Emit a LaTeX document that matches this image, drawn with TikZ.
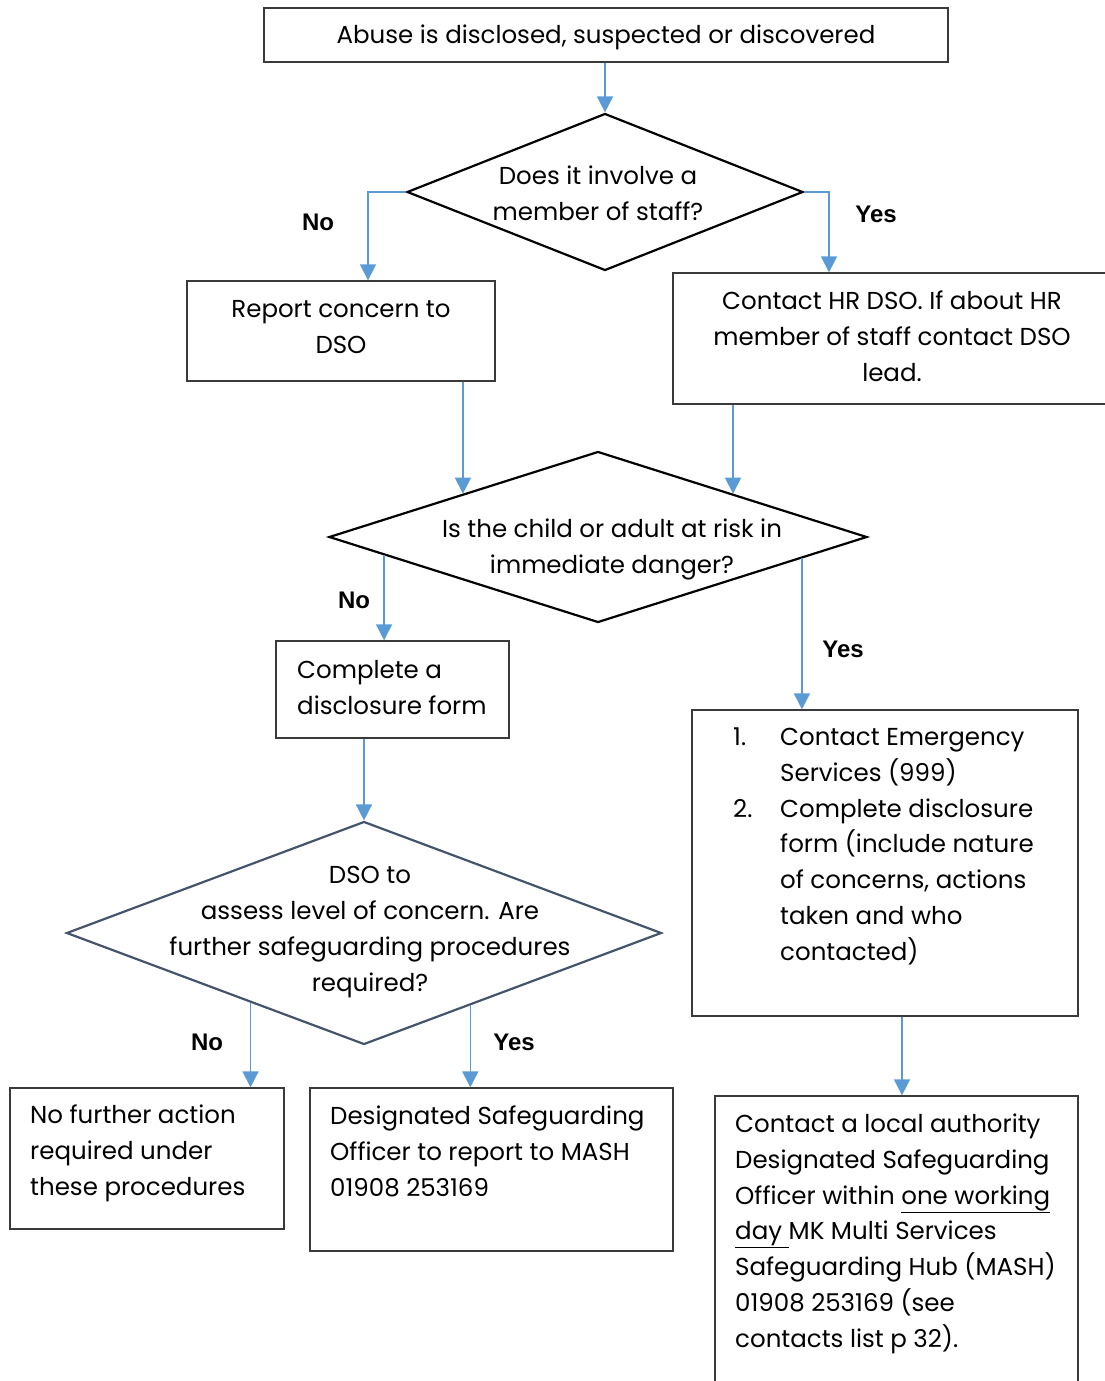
\documentclass[tikz,border=0pt]{standalone}
\usepackage{fontspec}
\setmainfont{Poppins}
\newfontfamily\lblfont{Liberation Sans}
\usetikzlibrary{shapes.geometric,calc,arrows.meta}
\definecolor{arrowblue}{HTML}{5B9BD5}
\definecolor{boxgray}{HTML}{3A3A3A}
\definecolor{slate}{HTML}{44546A}
\begin{document}
\begin{tikzpicture}[x=1pt,y=-1pt,
  box/.style={draw=boxgray, line width=1.3pt, inner sep=0, rectangle},
  dia/.style={draw=black, line width=2.2pt, diamond, inner sep=0},
  txt/.style={inner sep=0, font=\fontsize{24.5}{35.7}\selectfont},
  ctxt/.style={txt, align=center, anchor=base},
  ltxt/.style={txt, align=left, anchor=base west},
  lbl/.style={inner sep=0, font=\lblfont\bfseries\fontsize{24}{27}\selectfont},
  arr/.style={draw=arrowblue, line width=1.5pt, -{Triangle[length=16pt,width=16pt]}}]
\useasboundingbox (0,0) rectangle (1104,1381);

% boxes
\node[box, minimum width=684, minimum height=54] (A) at (606,35) {};
\node[box, minimum width=308, minimum height=100] (B) at (341,331) {};
\node[box, minimum width=439, minimum height=131] (C) at (892.5,338.5) {};
\node[box, minimum width=233, minimum height=97] (E) at (392.5,689.5) {};
\node[box, minimum width=274, minimum height=141] (F) at (147,1158.5) {};
\node[box, minimum width=363, minimum height=163] (G) at (491.5,1169.5) {};
\node[box, minimum width=386, minimum height=306] (H) at (885,863) {};
\node[box, minimum width=363, minimum height=304] (I) at (896.5,1248) {};

% diamonds
\node[dia, minimum width=396, minimum height=157] (d1) at (605,192) {};
\node[dia, minimum width=538, minimum height=171] (d2) at (598,537) {};
\node[dia, draw=slate, minimum width=595, minimum height=223] (d3) at (364,933) {};

% texts (anchor = baseline of the last line)
\node[ctxt] (tA) at (606,44) {Abuse is disclosed, suspected or discovered};
\node[ctxt] (td1) at (598,220) {Does it involve a\\member of staff?};
\node[ctxt] (tB) at (341,353) {Report concern to\\DSO};
\node[ctxt] (tC) at (892,381) {Contact HR DSO. If about HR\\member of staff contact DSO\\lead.};
\node[ctxt] (td2) at (612,573) {Is the child or adult at risk in\\immediate danger?};
\node[ltxt] (tE) at (297,714) {Complete a\\disclosure form};
\node[ctxt] (td3) at (370,991) {DSO to\\assess level of concern. Are\\further safeguarding procedures\\required?};
\node[ltxt] (tF) at (30,1195) {No further action\\required under\\these procedures};
\node[ltxt] (tG) at (330,1196) {Designated Safeguarding\\Officer to report to MASH\\01908 253169};
\node[ltxt] (tH) at (733,960) {\makebox[47pt][l]{1.}Contact Emergency\\\hspace*{47pt}Services (999)\\\makebox[47pt][l]{2.}Complete disclosure\\\hspace*{47pt}form (include nature\\\hspace*{47pt}of concerns, actions\\\hspace*{47pt}taken and who\\\hspace*{47pt}contacted)};
\node[ltxt] (tI) at (735,1347) {Contact a local authority\\Designated Safeguarding\\Officer within \underline{one working}\\\underline{day\ }MK Multi Services\\Safeguarding Hub (MASH)\\01908 253169 (see\\contacts list p 32).};

% labels
\node[lbl] (l1) at (318,222) {No};
\node[lbl] (l2) at (876,214) {Yes};
\node[lbl] (l3) at (354,600) {No};
\node[lbl] (l4) at (843,649) {Yes};
\node[lbl] (l5) at (207,1042) {No};
\node[lbl] (l6) at (514,1042) {Yes};

% connector points on diamond borders
\coordinate (n2) at ($(d2.west)!0.208!(d2.south)$);
\coordinate (y2) at ($(d2.east)!0.245!(d2.south)$);
\coordinate (n3) at ($(d3.west)!0.62!(d3.south)$);
\coordinate (y3) at ($(d3.east)!0.644!(d3.south)$);

% connectors
\draw[arr] (A.south -| d1.north) -- (d1.north);
\draw[arr] (d1.west) -| ([xshift=27pt]B.north);
\draw[arr] (d1.east) -| ([xshift=-63.5pt]C.north);
\draw[arr] (B.south -| d2.north west) -- (d2.north west);
\draw[arr] (C.south -| d2.north east) -- (d2.north east);
\draw[arr] (n2) -- (n2 |- E.north);
\draw[arr] (y2) -- (y2 |- H.north);
\draw[arr] (E.south -| d3.north) -- (d3.north);
\draw[arr] (n3) -- (n3 |- F.north);
\draw[arr] (y3) -- (y3 |- G.north);
\draw[arr] ([xshift=17pt]H.south) -- ([xshift=17pt]H.south |- I.north);
\end{tikzpicture}
\end{document}
